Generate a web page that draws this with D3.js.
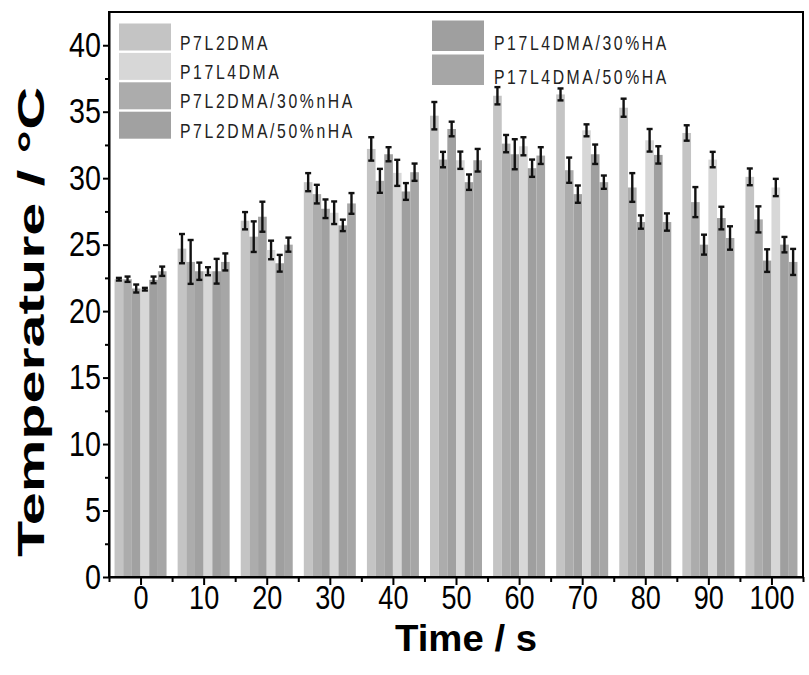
<!DOCTYPE html>
<html>
<head>
<meta charset="utf-8">
<script src="https://cdn.jsdelivr.net/npm/d3@7"></script>
<style>
  body { margin: 0; background: #fff; }
  text { font-family: "Liberation Sans", Arial, sans-serif; }
</style>
</head>
<body>
<svg id="chart" width="809" height="675"></svg>
<script>
// Heating time (s)
const times = [0, 10, 20, 30, 40, 50, 60, 70, 80, 90, 100];

// Bar order within each time group
const seriesNames = ["P7L2DMA", "P7L2DMA/30%nHA", "P7L2DMA/50%nHA", "P17L4DMA", "P17L4DMA/30%HA", "P17L4DMA/50%HA"];

// Mean temperature (°C)
const p7l2dma      = [22.4, 24.7, 26.8, 29.7, 32.2, 34.7, 36.2, 36.3, 35.3, 33.4, 30.1];
const p7l2dma30    = [22.4, 23.7, 25.6, 28.8, 29.8, 31.4, 32.6, 30.6, 29.3, 28.2, 26.9];
const p7l2dma50    = [21.7, 23.0, 27.1, 27.7, 31.8, 33.7, 31.8, 28.8, 26.7, 25.0, 23.8];
const p17l4dma     = [21.65, 23.0, 24.6, 27.4, 30.4, 31.35, 32.4, 33.6, 32.85, 31.4, 29.3];
const p17l4dma30   = [22.35, 23.0, 23.6, 26.45, 29.0, 29.7, 30.75, 31.8, 31.75, 27.0, 25.0];
const p17l4dma50   = [23.0, 23.7, 25.0, 28.1, 30.45, 31.35, 31.7, 29.7, 26.7, 25.5, 23.7];

// Standard deviation (°C)
const p7l2dmaErr    = [0.1, 1.1, 0.65, 0.68, 0.88, 1.03, 0.65, 0.45, 0.68, 0.58, 0.63];
const p7l2dma30Err  = [0.2, 1.65, 1.15, 0.7, 0.9, 0.58, 0.65, 0.95, 1.08, 1.13, 0.98];
const p7l2dma50Err  = [0.3, 0.65, 1.13, 0.7, 0.53, 0.55, 1.13, 0.65, 0.5, 0.75, 0.85];
const p17l4dmaErr   = [0.1, 0.3, 0.7, 0.85, 0.98, 0.65, 0.68, 0.45, 0.85, 0.58, 0.65];
const p17l4dma30Err = [0.25, 0.93, 0.63, 0.43, 0.63, 0.58, 0.65, 0.73, 0.65, 0.85, 0.58];
const p17l4dma50Err = [0.35, 0.64, 0.53, 0.78, 0.65, 0.85, 0.63, 0.5, 0.65, 0.88, 0.98];

const seriesValues = [p7l2dma, p7l2dma30, p7l2dma50, p17l4dma, p17l4dma30, p17l4dma50];
const seriesErrors = [p7l2dmaErr, p7l2dma30Err, p7l2dma50Err, p17l4dmaErr, p17l4dma30Err, p17l4dma50Err];

// Axis ticks
const xTicks = [0, 10, 20, 30, 40, 50, 60, 70, 80, 90, 100];
const xMinorTicks = [-5, 5, 15, 25, 35, 45, 55, 65, 75, 85, 95, 105];
const yTicks = [0, 5, 10, 15, 20, 25, 30, 35, 40];
const yMinorTicks = [2.5, 7.5, 12.5, 17.5, 22.5, 27.5, 32.5, 37.5];

// Legend columns
const legendLeft = ["P7L2DMA", "P17L4DMA", "P7L2DMA/30%nHA", "P7L2DMA/50%nHA"];
const legendRight = ["P17L4DMA/30%HA", "P17L4DMA/50%HA"];

const colors = {
  "P7L2DMA": "#c4c4c4",
  "P7L2DMA/30%nHA": "#acacac",
  "P7L2DMA/50%nHA": "#a1a1a1",
  "P17L4DMA": "#d7d7d7",
  "P17L4DMA/30%HA": "#9f9f9f",
  "P17L4DMA/50%HA": "#a6a6a6"
};

const svg = d3.select("#chart");
const plot = { left: 109, right: 803, top: 12, bottom: 577 };

const x = d3.scaleLinear().domain([-5, 105]).range([plot.left, plot.right]);
const y = d3.scaleLinear().domain([0, 42.5]).range([plot.bottom, plot.top]);
const inner = d3.scaleBand().domain(seriesNames).range([-26, 26]).padding(0);

// Flatten to one record per bar
const bars = [];
times.forEach((t, i) => {
  seriesNames.forEach((name, s) => {
    bars.push({ t, name, value: seriesValues[s][i], err: seriesErrors[s][i] });
  });
});

// Bars
svg.append("g").selectAll("rect").data(bars).join("rect")
  .attr("x", d => x(d.t) + inner(d.name))
  .attr("y", d => y(d.value))
  .attr("width", inner.bandwidth())
  .attr("height", d => y(0) - y(d.value))
  .attr("fill", d => colors[d.name]);

// Error bars
const eg = svg.append("g").attr("stroke", "#111").attr("stroke-width", 2.4);
const cx = d => x(d.t) + inner(d.name) + inner.bandwidth() / 2;
eg.selectAll("line.v").data(bars).join("line").attr("class", "v")
  .attr("x1", cx).attr("x2", cx)
  .attr("y1", d => y(d.value - d.err)).attr("y2", d => y(d.value + d.err));
eg.selectAll("line.t").data(bars).join("line").attr("class", "t")
  .attr("x1", d => cx(d) - 3).attr("x2", d => cx(d) + 3)
  .attr("y1", d => y(d.value + d.err)).attr("y2", d => y(d.value + d.err));
eg.selectAll("line.b").data(bars).join("line").attr("class", "b")
  .attr("x1", d => cx(d) - 3).attr("x2", d => cx(d) + 3)
  .attr("y1", d => y(d.value - d.err)).attr("y2", d => y(d.value - d.err));

// Frame
svg.append("rect")
  .attr("x", plot.left).attr("y", plot.top)
  .attr("width", plot.right - plot.left).attr("height", plot.bottom - plot.top)
  .attr("fill", "none").attr("stroke", "#000").attr("stroke-width", 2);

const sx = 0.82; // narrow digits

// X axis
const xAxis = svg.append("g").attr("transform", `translate(0,${plot.bottom})`)
  .call(d3.axisBottom(x).tickValues(xTicks).tickSize(8).tickSizeOuter(0).tickPadding(1).tickFormat(d3.format("d")));
xAxis.select(".domain").attr("stroke-width", 2);
xAxis.selectAll(".tick line").attr("stroke-width", 2);
xAxis.selectAll(".tick text")
  .attr("font-size", 33).attr("fill", "#000")
  .attr("transform", `scale(${sx},1)`);
svg.append("g").attr("transform", `translate(0,${plot.bottom})`)
  .call(d3.axisBottom(x).tickValues(xMinorTicks).tickSize(5).tickSizeOuter(0).tickFormat(""))
  .call(g => g.select(".domain").remove())
  .selectAll(".tick line").attr("stroke-width", 2);

// Y axis
const yAxis = svg.append("g").attr("transform", `translate(${plot.left},0)`)
  .call(d3.axisLeft(y).tickValues(yTicks).tickSize(6).tickSizeOuter(0).tickPadding(2).tickFormat(d3.format("d")));
yAxis.select(".domain").attr("stroke-width", 2);
yAxis.selectAll(".tick line").attr("stroke-width", 2);
yAxis.selectAll(".tick text")
  .attr("font-size", 35).attr("fill", "#000")
  .attr("x", -8 / sx)
  .attr("transform", `scale(${sx},1)`);
svg.append("g").attr("transform", `translate(${plot.left},0)`)
  .call(d3.axisLeft(y).tickValues(yMinorTicks).tickSize(4).tickSizeOuter(0).tickFormat(""))
  .call(g => g.select(".domain").remove())
  .selectAll(".tick line").attr("stroke-width", 2);

// Axis titles
svg.append("text")
  .attr("x", 466).attr("y", 651)
  .attr("text-anchor", "middle")
  .attr("font-size", 36).attr("font-weight", "bold")
  .attr("textLength", 142).attr("lengthAdjust", "spacingAndGlyphs")
  .text("Time / s");

svg.append("text")
  .attr("transform", "translate(44,322) rotate(-90)")
  .attr("text-anchor", "middle")
  .attr("font-size", 36).attr("font-weight", "bold")
  .attr("textLength", 470).attr("lengthAdjust", "spacingAndGlyphs")
  .text("Temperature / °C");

// Legend
const legend = svg.append("g");
function legendItem(g, name, sxLeft, top, h, tx) {
  g.append("rect").attr("x", sxLeft).attr("y", top).attr("width", 52).attr("height", h)
    .attr("fill", colors[name]);
  g.append("text")
    .attr("transform", `translate(${tx},${top + h - 1}) scale(0.75,1)`)
    .attr("font-size", 21).attr("letter-spacing", 3.5).attr("fill", "#222")
    .text(name);
}
legendLeft.forEach((name, i) => legendItem(legend, name, 119, 23.5 + i * 29.4, 27, 180));
legendRight.forEach((name, i) => legendItem(legend, name, 432, 20.5 + i * 34, 30.5, 494));
</script>
</body>
</html>
